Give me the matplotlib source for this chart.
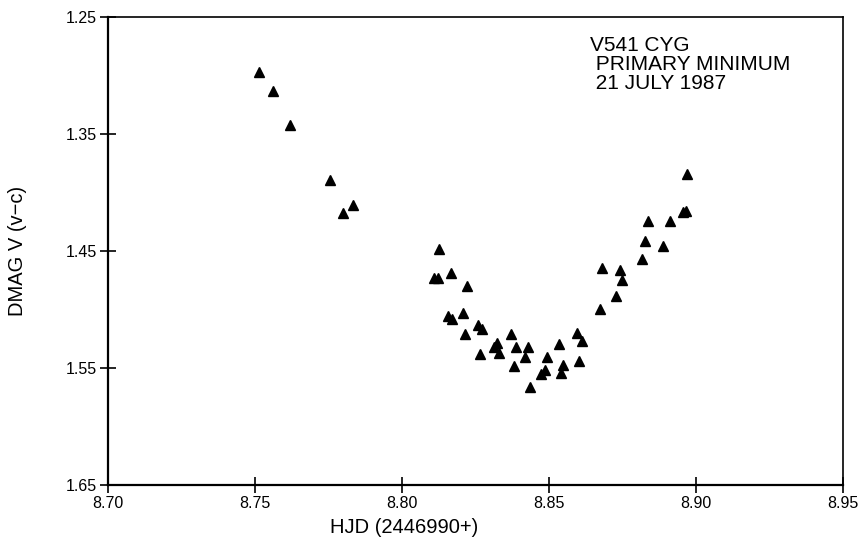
import matplotlib
matplotlib.use("Agg")
import matplotlib.pyplot as plt
from matplotlib.ticker import FormatStrFormatter

# HJD - 2446990, and differential V magnitude (v-c)
hjd = [8.7514, 8.7561, 8.7619, 8.7755, 8.7799, 8.7833,
       8.8127, 8.8109, 8.8121, 8.8166, 8.8220, 8.8158, 8.8169, 8.8206,
       8.8214, 8.8260, 8.8271, 8.8265, 8.8322, 8.8314, 8.8330, 8.8371,
       8.8387, 8.8430, 8.8419, 8.8380, 8.8435, 8.8493, 8.8487, 8.8474,
       8.8533, 8.8549, 8.8540, 8.8594, 8.8612, 8.8601, 8.8673, 8.8681,
       8.8740, 8.8749, 8.8727, 8.8815, 8.8826, 8.8889, 8.8837, 8.8912,
       8.8957, 8.8966, 8.8970]
dmag = [1.2969, 1.3131, 1.3421, 1.3890, 1.4172, 1.4103,
        1.4487, 1.4732, 1.4732, 1.4689, 1.4803, 1.5056, 1.5084, 1.5031,
        1.5206, 1.5135, 1.5167, 1.5377, 1.5286, 1.5320, 1.5372, 1.5210,
        1.5317, 1.5320, 1.5408, 1.5485, 1.5662, 1.5408, 1.5519, 1.5553,
        1.5295, 1.5477, 1.5542, 1.5198, 1.5269, 1.5440, 1.4999, 1.4647,
        1.4666, 1.4752, 1.4886, 1.4570, 1.4413, 1.4456, 1.4240, 1.4240,
        1.4169, 1.4155, 1.3842]

xticks = [8.70, 8.75, 8.80, 8.85, 8.90, 8.95]
yticks = [1.25, 1.35, 1.45, 1.55, 1.65]

plt.rcParams["font.family"] = ["Liberation Sans", "DejaVu Sans"]

fig = plt.figure(figsize=(8.64, 5.53), dpi=100)
ax = fig.add_axes([0.125, 0.123, 0.8507, 0.8463])

ax.plot(hjd, dmag, linestyle="none", marker="^", color="black", markersize=6.5)

ax.set_xlim(8.70, 8.95)
ax.set_ylim(1.65, 1.25)
ax.set_xticks(xticks)
ax.set_yticks(yticks)
ax.xaxis.set_major_formatter(FormatStrFormatter("%.2f"))
ax.yaxis.set_major_formatter(FormatStrFormatter("%.2f"))
ax.tick_params(direction="inout", length=12, width=1.2, labelsize=11.5, pad=2)

for side in ["left", "bottom"]:
    ax.spines[side].set_linewidth(1.6)
for side in ["top", "right"]:
    ax.spines[side].set_linewidth(1.2)

ax.set_xlabel("HJD (2446990+)", fontsize=14.5)
ax.set_ylabel("DMAG V (v\u2212c)", fontsize=14.5)
ax.xaxis.set_label_coords(0.403, -0.07)
ax.yaxis.set_label_coords(-0.11, 0.5)

ax.text(8.864, 1.266, "V541 CYG\n PRIMARY MINIMUM\n 21 JULY 1987",
        fontsize=15, va="top", ha="left", linespacing=1.0)

plt.savefig("out.png", dpi=100)
